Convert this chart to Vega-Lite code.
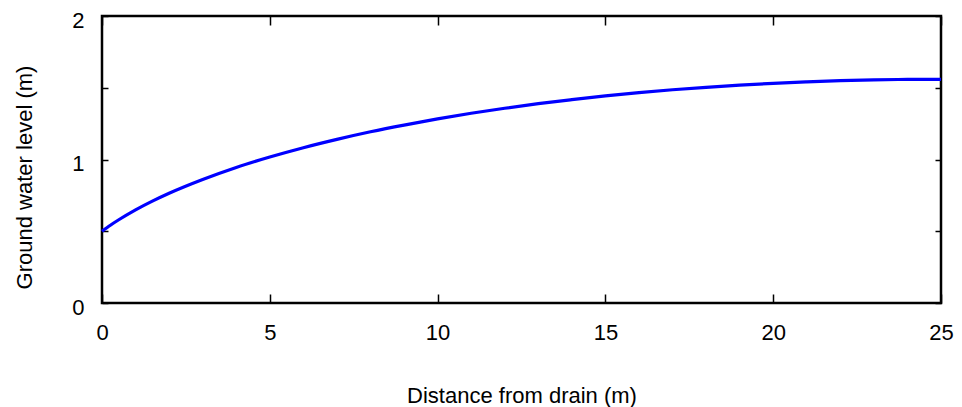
{
  "$schema": "https://vega.github.io/schema/vega-lite/v6.json",
  "width": 839,
  "height": 287,
  "autosize": {"type": "none"},
  "padding": {"left": 102, "top": 16, "right": 21, "bottom": 104},
  "config": {
    "view": {"stroke": "black", "strokeWidth": 2.5},
    "font": "Liberation Sans",
    "axis": {
      "domain": false,
      "grid": false,
      "tickColor": "black",
      "tickWidth": 1.5,
      "labelColor": "black",
      "titleColor": "black",
      "labelFont": "Liberation Sans",
      "titleFont": "Liberation Sans",
      "labelFontSize": 22,
      "titleFontSize": 22,
      "titleFontWeight": "normal"
    }
  },
  "data": {
    "values": [
      {"distance": 0, "level": 0.5},
      {"distance": 0.25, "level": 0.542},
      {"distance": 0.5, "level": 0.58},
      {"distance": 1, "level": 0.649},
      {"distance": 1.5, "level": 0.71},
      {"distance": 2, "level": 0.765},
      {"distance": 3, "level": 0.861},
      {"distance": 4, "level": 0.945},
      {"distance": 5, "level": 1.017},
      {"distance": 6, "level": 1.082},
      {"distance": 7, "level": 1.14},
      {"distance": 8, "level": 1.193},
      {"distance": 9, "level": 1.24},
      {"distance": 10, "level": 1.283},
      {"distance": 11, "level": 1.322},
      {"distance": 12, "level": 1.357},
      {"distance": 13, "level": 1.389},
      {"distance": 14, "level": 1.417},
      {"distance": 15, "level": 1.443},
      {"distance": 16, "level": 1.466},
      {"distance": 17, "level": 1.486},
      {"distance": 18, "level": 1.503},
      {"distance": 19, "level": 1.518},
      {"distance": 20, "level": 1.531},
      {"distance": 21, "level": 1.541},
      {"distance": 22, "level": 1.549},
      {"distance": 23, "level": 1.555},
      {"distance": 24, "level": 1.558},
      {"distance": 25, "level": 1.559}
    ]
  },
  "layer": [
    {
      "mark": {"type": "line", "color": "#0000ff", "strokeWidth": 3.2, "interpolate": "monotone"},
      "encoding": {
        "x": {
          "field": "distance",
          "type": "quantitative",
          "scale": {"domain": [0, 25], "nice": false, "zero": false},
          "axis": {
            "orient": "bottom",
            "values": [0, 5, 10, 15, 20, 25],
            "tickSize": -9,
            "labelPadding": 45,
            "labelBaseline": "alphabetic",
            "labelFlush": false,
            "title": "Distance from drain (m)",
            "titleX": 419.5,
            "titleY": 99,
            "titleBaseline": "alphabetic"
          }
        },
        "y": {
          "field": "level",
          "type": "quantitative",
          "scale": {"domain": [0, 2], "nice": false, "zero": false},
          "axis": {
            "orient": "left",
            "values": [0, 0.5, 1, 1.5, 2],
            "labelExpr": "datum.value % 1 === 0 ? format(datum.value, 'd') : ''",
            "tickSize": -6,
            "labelPadding": 24,
            "labelBaseline": "middle",
            "labelOffset": 4,
            "labelFlush": false,
            "title": "Ground water level (m)",
            "titleX": -78,
            "titleY": 161,
            "titleBaseline": "middle"
          }
        }
      }
    },
    {
      "mark": {"type": "line", "opacity": 0},
      "encoding": {
        "x": {
          "field": "distance",
          "type": "quantitative",
          "axis": {
            "orient": "top",
            "values": [0, 5, 10, 15, 20, 25],
            "tickSize": -9,
            "labels": false,
            "title": null
          }
        },
        "y": {
          "field": "level",
          "type": "quantitative",
          "axis": {
            "orient": "right",
            "values": [0, 0.5, 1, 1.5, 2],
            "tickSize": -6,
            "labels": false,
            "title": null
          }
        }
      }
    }
  ],
  "resolve": {"axis": {"x": "independent", "y": "independent"}}
}
